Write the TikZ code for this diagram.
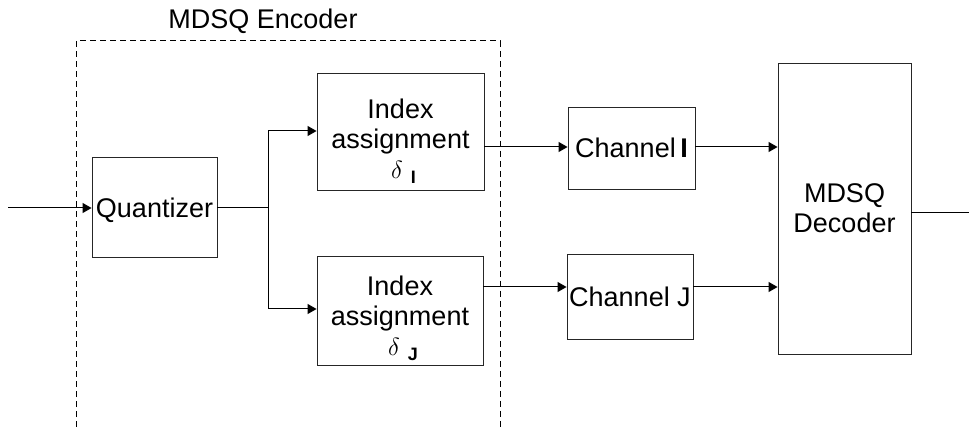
\documentclass[tikz,border=0pt]{standalone}
\usepackage{fontspec}
\setmainfont{Liberation Sans}
\usetikzlibrary{arrows.meta}
\tikzset{
  blk/.style={draw=black!85, line width=0.9pt, fill=white, align=center, inner sep=0pt,
              font=\fontsize{27}{30}\selectfont},
  link/.style={line width=1pt, -{Triangle[length=9pt,width=10pt]}},
  plain/.style={line width=1pt},
  frame/.style={line width=1pt, dash pattern=on 6pt off 4pt},
}
\newcommand{\subidx}[1]{\hspace*{6pt}$\delta$\hspace{8pt}\raisebox{-5pt}{\fontsize{18}{18}\selectfont\bfseries #1}}
% extra height above the first line, to set a block's text a little lower
\newcommand{\lowered}[1]{\rule{0pt}{#1}}
\begin{document}
\begin{tikzpicture}[x=1pt,y=-1pt]
\useasboundingbox (0,0) rectangle (969,427);

% encoder frame, open at the bottom
\draw[frame] (76,427) -- (76,41) -- (500,41) -- (500,427);
\node[font=\fontsize{27}{30}\selectfont] (enc) at (263,21) {MDSQ Encoder};

% blocks
\node[blk, minimum width=125, minimum height=100] (q) at (154.5,207) {\lowered{26pt}Quantizer};
\node[blk, minimum width=167, minimum height=117] (ia) at (400.5,131.5)
  {\lowered{39pt}Index\\assignment\\\subidx{I}};
\node[blk, minimum width=166, minimum height=109] (ib) at (400,310.5)
  {\lowered{36pt}Index\\assignment\\\subidx{J}};
\node[blk, minimum width=127, minimum height=82] (ca) at (631.5,148) {Channel\,\textbf{I}};
\node[blk, minimum width=126, minimum height=85] (cb) at (630,296.5) {Channel J};
\node[blk, minimum width=133, minimum height=291] (dec) at (844.5,208.5) {MDSQ\\Decoder};

% connectors
\coordinate (in) at (8,208);
\coordinate (split) at (268,208);
\coordinate (out) at (969,213);
\draw[link] (in) -- (in -| q.west);
\draw[plain] (q.east |- split) -- (split);
\draw[link] (split) |- (ia.west |- 0,131);
\draw[link] (split) |- (ib.west |- 0,309);
\draw[link] (ia.east |- 0,147) -- (ca.west |- 0,147);
\draw[link] (ib.east |- 0,287) -- (cb.west |- 0,287);
\draw[link] (ca.east |- 0,147) -- (dec.west |- 0,147);
\draw[link] (cb.east |- 0,287) -- (dec.west |- 0,287);
\draw[plain] (dec.east |- out) -- (out);
\end{tikzpicture}
\end{document}
